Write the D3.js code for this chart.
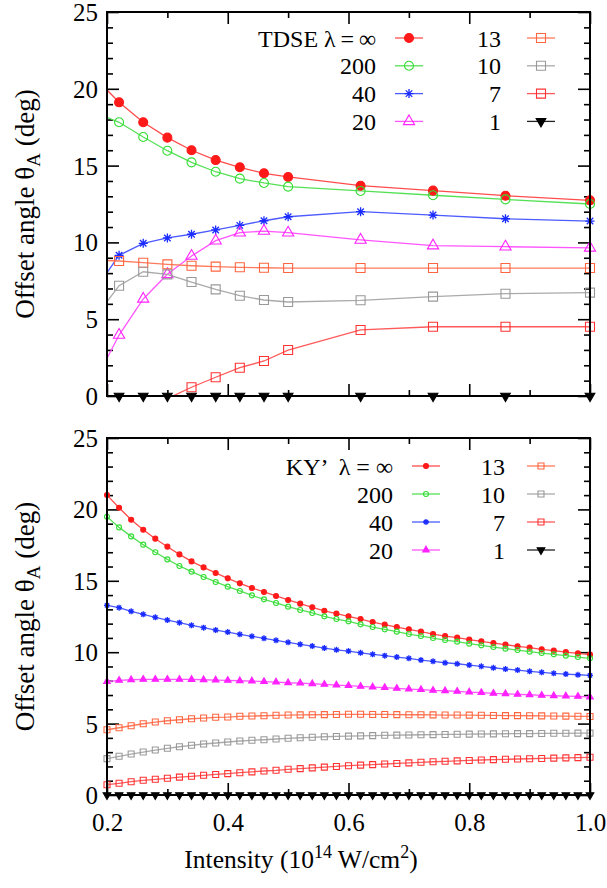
<!DOCTYPE html>
<html>
<head>
<meta charset="utf-8">
<script src="https://cdn.jsdelivr.net/npm/d3@7"></script>
<style>
  body { margin: 0; background: #fff; }
  svg text { font-family: "Liberation Serif", "Times New Roman", Times, "DejaVu Serif", serif; fill: #000; }
</style>
</head>
<body>
<div id="chart"></div>
<script>
// ---- data ----
// TDSE panel
var xTop = [0.18, 0.22, 0.26, 0.30, 0.34, 0.38, 0.42, 0.46, 0.50, 0.62, 0.74, 0.86, 1.00];
var tdseInf = [20.72, 19.12, 17.82, 16.82, 16.0, 15.36, 14.89, 14.5, 14.26, 13.69, 13.37, 13.04, 12.74];
var tdse200 = [18.46, 17.82, 16.86, 15.97, 15.21, 14.6, 14.15, 13.87, 13.63, 13.35, 13.07, 12.8, 12.5];
var tdse40  = [6.9, 9.16, 9.94, 10.29, 10.53, 10.81, 11.11, 11.41, 11.67, 12.0, 11.78, 11.54, 11.39];
var tdse20  = [0.93, 3.97, 6.32, 7.92, 9.11, 10.11, 10.63, 10.74, 10.63, 10.16, 9.79, 9.72, 9.64];
var tdse13  = [8.85, 8.79, 8.68, 8.57, 8.48, 8.42, 8.38, 8.35, 8.33, 8.33, 8.33, 8.33, 8.33];
var tdse10  = [5.1, 7.18, 8.09, 7.92, 7.42, 6.94, 6.53, 6.25, 6.12, 6.23, 6.47, 6.66, 6.73];
var tdse7   = [null, null, null, -0.17, 0.57, 1.22, 1.84, 2.28, 2.99, 4.30, 4.51, 4.51, 4.51];
var tdse1   = [0, 0, 0, 0, 0, 0, 0, 0, 0, 0, 0, 0, 0];

// KY' panel
var xBot = [0.20, 0.22, 0.24, 0.26, 0.28, 0.30, 0.32, 0.34, 0.36, 0.38,
            0.40, 0.42, 0.44, 0.46, 0.48, 0.50, 0.52, 0.54, 0.56, 0.58,
            0.60, 0.62, 0.64, 0.66, 0.68, 0.70, 0.72, 0.74, 0.76, 0.78,
            0.80, 0.82, 0.84, 0.86, 0.88, 0.90, 0.92, 0.94, 0.96, 0.98, 1.00];
var kyInf = [21.0, 20.12, 19.28, 18.58, 17.95, 17.39, 16.85, 16.36, 15.94, 15.55,
             15.17, 14.82, 14.5, 14.22, 13.94, 13.66, 13.4, 13.14, 12.9, 12.7,
             12.51, 12.32, 12.11, 11.93, 11.76, 11.6, 11.44, 11.27, 11.13, 11.02,
             10.88, 10.76, 10.64, 10.53, 10.41, 10.32, 10.2, 10.11, 10.01, 9.92, 9.83];
var ky200 = [19.49, 18.74, 18.11, 17.53, 17.0, 16.5, 16.04, 15.64, 15.27, 14.92,
             14.59, 14.29, 13.98, 13.7, 13.45, 13.19, 12.96, 12.75, 12.51, 12.32,
             12.16, 11.95, 11.76, 11.6, 11.44, 11.27, 11.13, 10.99, 10.85, 10.74,
             10.6, 10.48, 10.36, 10.25, 10.15, 10.04, 9.94, 9.85, 9.76, 9.66, 9.57];
var ky40  = [13.28, 13.12, 12.86, 12.65, 12.44, 12.25, 12.07, 11.88, 11.72, 11.55,
             11.41, 11.25, 11.11, 10.97, 10.83, 10.69, 10.55, 10.43, 10.29, 10.17,
             10.08, 9.96, 9.85, 9.76, 9.66, 9.57, 9.45, 9.36, 9.26, 9.19,
             9.1, 9.01, 8.91, 8.82, 8.75, 8.66, 8.59, 8.52, 8.47, 8.42, 8.38];
var ky20  = [7.94, 8.03, 8.07, 8.1, 8.1, 8.1, 8.1, 8.09, 8.07, 8.05,
             8.03, 8.0, 7.98, 7.94, 7.91, 7.86, 7.84, 7.79, 7.75, 7.7,
             7.66, 7.61, 7.56, 7.52, 7.47, 7.42, 7.38, 7.33, 7.3, 7.26,
             7.21, 7.17, 7.12, 7.09, 7.05, 7.02, 6.98, 6.95, 6.93, 6.91, 6.86];
var ky13  = [4.57, 4.71, 4.85, 4.99, 5.11, 5.2, 5.27, 5.34, 5.39, 5.44,
             5.46, 5.51, 5.53, 5.55, 5.58, 5.6, 5.61, 5.62, 5.63, 5.64,
             5.65, 5.65, 5.64, 5.64, 5.63, 5.62, 5.62, 5.61, 5.6, 5.6,
             5.59, 5.58, 5.57, 5.56, 5.56, 5.55, 5.54, 5.53, 5.52, 5.51, 5.5];
var ky10  = [2.55, 2.71, 2.87, 3.01, 3.15, 3.27, 3.38, 3.48, 3.57, 3.64,
             3.71, 3.78, 3.83, 3.87, 3.92, 3.97, 4.01, 4.04, 4.08, 4.1,
             4.12, 4.14, 4.16, 4.18, 4.19, 4.2, 4.22, 4.23, 4.24, 4.25,
             4.26, 4.27, 4.28, 4.29, 4.3, 4.3, 4.31, 4.32, 4.32, 4.33, 4.33];
var ky7   = [0.72, 0.82, 0.93, 1.03, 1.10, 1.17, 1.25, 1.31, 1.38, 1.44,
             1.50, 1.56, 1.62, 1.68, 1.73, 1.80, 1.85, 1.90, 1.95, 2.0,
             2.05, 2.09, 2.13, 2.17, 2.21, 2.25, 2.29, 2.33, 2.36, 2.39,
             2.42, 2.45, 2.48, 2.50, 2.52, 2.54, 2.56, 2.58, 2.60, 2.62, 2.64];
var ky1   = [0, 0, 0, 0, 0, 0, 0, 0, 0, 0, 0, 0, 0, 0, 0, 0, 0, 0, 0, 0,
             0, 0, 0, 0, 0, 0, 0, 0, 0, 0, 0, 0, 0, 0, 0, 0, 0, 0, 0, 0, 0];

var seriesLabels = ["\u221E", "200", "40", "20", "13", "10", "7", "1"];
var xTicks = [0.2, 0.4, 0.6, 0.8, 1.0];
var yTicks = [0, 5, 10, 15, 20, 25];

var FONT = '"Liberation Serif", "Times New Roman", Times, "DejaVu Serif", serif';

// style per series (same order as labels)
var styles = [
  {color: "#ff1a1a", line: "#ff4d4d", shape: "circle"},
  {color: "#33dd33", line: "#55e055", shape: "circle"},
  {color: "#1a2bff", line: "#4d5cff", shape: "star"},
  {color: "#ff22ff", line: "#ff55ff", shape: "triUp"},
  {color: "#ff6640", line: "#ff7a5c", shape: "square"},
  {color: "#999999", line: "#aaaaaa", shape: "square"},
  {color: "#ff3333", line: "#ff5a5a", shape: "square"},
  {color: "#000000", line: "#222222", shape: "triDown"}
];

var W = 607, H = 888;
var svg = d3.select("#chart").append("svg")
  .attr("width", W).attr("height", H);

var left = 107, right = 590;

function markerPath(shape, s) {
  // s = nominal marker size in px
  if (shape === "circle") return d3.symbol(d3.symbolCircle, Math.PI * s * s / 4)();
  if (shape === "square") return d3.symbol(d3.symbolSquare, s * s)();
  if (shape === "triUp" || shape === "triDown") return d3.symbol(d3.symbolTriangle, s * s * 0.45)();
  var r = s / 2, d = r * 0.72;
  return "M" + (-r) + ",0L" + r + ",0M0," + (-r) + "L0," + r +
         "M" + (-d) + "," + (-d) + "L" + d + "," + d +
         "M" + (-d) + "," + d + "L" + d + "," + (-d);
}

function drawMarker(g, st, filled, x, y, s) {
  g.append("path")
    .attr("d", markerPath(st.shape, s))
    .attr("transform", "translate(" + x + "," + y + ")" + (st.shape === "triDown" ? " rotate(180)" : ""))
    .attr("stroke", st.color)
    .attr("stroke-width", st.shape === "star" ? 1.3 : 1.1)
    .attr("fill", filled ? st.color : "none");
}

function drawPanel(cfg) {
  var top = cfg.top, bottom = cfg.bottom;
  var x = d3.scaleLinear().domain([0.2, 1.0]).range([left, right]);
  var y = d3.scaleLinear().domain([0, 25]).range([bottom, top]);
  var g = svg.append("g");
  var pw = right - left, ph = bottom - top;

  var clipId = "clip" + cfg.id;
  svg.append("clipPath").attr("id", clipId)
    .append("rect").attr("x", left).attr("y", top).attr("width", pw).attr("height", ph);

  // ticks
  var minorY = d3.range(1, 25).filter(function(v) { return v % 5 !== 0; });
  var minorX = [0.3, 0.5, 0.7, 0.9];

  function addAxis(axis, tx, ty, labels) {
    var a = g.append("g").attr("transform", "translate(" + tx + "," + ty + ")").call(axis);
    a.attr("font-family", null).attr("font-size", null);
    a.select(".domain").remove();
    a.selectAll(".tick line").attr("stroke", "#000").attr("stroke-width", 1.6);
    if (!labels) a.selectAll(".tick text").remove();
    else a.selectAll(".tick text").style("font-family", FONT).style("font-size", "25px");
    return a;
  }
  addAxis(d3.axisLeft(y).tickValues(yTicks).tickSize(-12).tickPadding(9), left, 0, true)
    .selectAll(".tick text").attr("dy", "0.34em");
  addAxis(d3.axisLeft(y).tickValues(minorY).tickSize(-6).tickFormat(""), left, 0, false);
  addAxis(d3.axisRight(y).tickValues(yTicks).tickSize(-12).tickFormat(""), right, 0, false);
  addAxis(d3.axisRight(y).tickValues(minorY).tickSize(-6).tickFormat(""), right, 0, false);
  addAxis(d3.axisTop(x).tickValues(xTicks).tickSize(-12).tickFormat(""), 0, top, false);
  addAxis(d3.axisTop(x).tickValues(minorX).tickSize(-6).tickFormat(""), 0, top, false);
  addAxis(d3.axisBottom(x).tickValues(xTicks).tickSize(-12).tickPadding(18)
    .tickFormat(d3.format(".1f")), 0, bottom, cfg.xLabels);
  addAxis(d3.axisBottom(x).tickValues(minorX).tickSize(-6).tickFormat(""), 0, bottom, false);

  // lines
  var line = d3.line()
    .defined(function(d) { return d[1] !== null; })
    .x(function(d) { return x(d[0]); })
    .y(function(d) { return y(d[1]); });

  var lines = g.append("g").attr("clip-path", "url(#" + clipId + ")");
  cfg.series.forEach(function(vals, i) {
    var pts = cfg.xs.map(function(xv, j) { return [xv, vals[j]]; });
    lines.append("path")
      .attr("d", line(pts))
      .attr("fill", "none")
      .attr("stroke", styles[i].line)
      .attr("stroke-width", 1.3);
  });

  // markers
  var mk = g.append("g");
  cfg.series.forEach(function(vals, i) {
    var s = cfg.msize[styles[i].shape];
    var filled = cfg.filled.indexOf(i) >= 0;
    cfg.xs.forEach(function(xv, j) {
      var v = vals[j];
      if (v === null || xv < 0.2 || v < 0 || v > 25) return;
      drawMarker(mk, styles[i], filled, x(xv), y(v), s);
    });
  });

  // frame
  g.append("rect").attr("x", left).attr("y", top).attr("width", pw).attr("height", ph)
    .attr("fill", "none").attr("stroke", "#000").attr("stroke-width", 2);

  // legend
  var lg = g.append("g");
  seriesLabels.forEach(function(lab, i) {
    var col = i < 4 ? 0 : 1, row = i % 4;
    var ly = cfg.legTop + row * cfg.legStep;
    var tx = col === 0 ? cfg.legTextX0 : cfg.legTextX1;
    var sx = col === 0 ? cfg.legLineX0 : cfg.legLineX1;
    var txt = (i === 0) ? cfg.title + lab : lab;
    lg.append("text").attr("x", tx).attr("y", ly + 8.5)
      .attr("text-anchor", "end")
      .style("font-family", FONT).style("font-size", "24px")
      .style("white-space", "pre").text(txt);
    lg.append("line").attr("x1", sx).attr("x2", sx + 28).attr("y1", ly).attr("y2", ly)
      .attr("stroke", styles[i].line).attr("stroke-width", 1.3);
    drawMarker(lg, styles[i], cfg.filled.indexOf(i) >= 0, sx + 14, ly, cfg.msize[styles[i].shape]);
  });

  // y title
  var yt = g.append("text")
    .attr("transform", "translate(34," + ((top + bottom) / 2) + ") rotate(-90)")
    .attr("text-anchor", "middle")
    .style("font-family", FONT).style("font-size", "27px");
  yt.append("tspan").text("Offset angle \u03B8");
  yt.append("tspan").style("font-size", "19px").attr("dy", 6).text("A");
  yt.append("tspan").attr("dy", -6).text(" (deg)");
}

drawPanel({
  id: "top", top: 12, bottom: 396, xs: xTop,
  series: [tdseInf, tdse200, tdse40, tdse20, tdse13, tdse10, tdse7, tdse1],
  filled: [0, 7],
  xLabels: false, title: "TDSE \u03BB\u2009=\u2009",
  msize: {circle: 9, square: 9, star: 9, triUp: 11, triDown: 9.5},
  legTop: 38, legStep: 27.8, legTextX0: 376, legLineX0: 395, legTextX1: 501, legLineX1: 527
});

drawPanel({
  id: "bot", top: 438, bottom: 795, xs: xBot,
  series: [kyInf, ky200, ky40, ky20, ky13, ky10, ky7, ky1],
  filled: [0, 3, 7],
  xLabels: true, title: "KY\u2019  \u03BB = ",
  msize: {circle: 5, square: 6, star: 6, triUp: 6.5, triDown: 7.5},
  legTop: 466, legStep: 28, legTextX0: 393, legLineX0: 412, legTextX1: 505, legLineX1: 527
});

// x title
var xt = svg.append("text").attr("x", 301).attr("y", 868)
  .attr("text-anchor", "middle")
  .style("font-family", FONT).style("font-size", "25.5px");
xt.append("tspan").text("Intensity (10");
xt.append("tspan").style("font-size", "18px").attr("dy", -10).text("14");
xt.append("tspan").attr("dy", 10).text(" W/cm");
xt.append("tspan").style("font-size", "18px").attr("dy", -10).text("2");
xt.append("tspan").attr("dy", 10).text(")");
</script>
</body>
</html>
